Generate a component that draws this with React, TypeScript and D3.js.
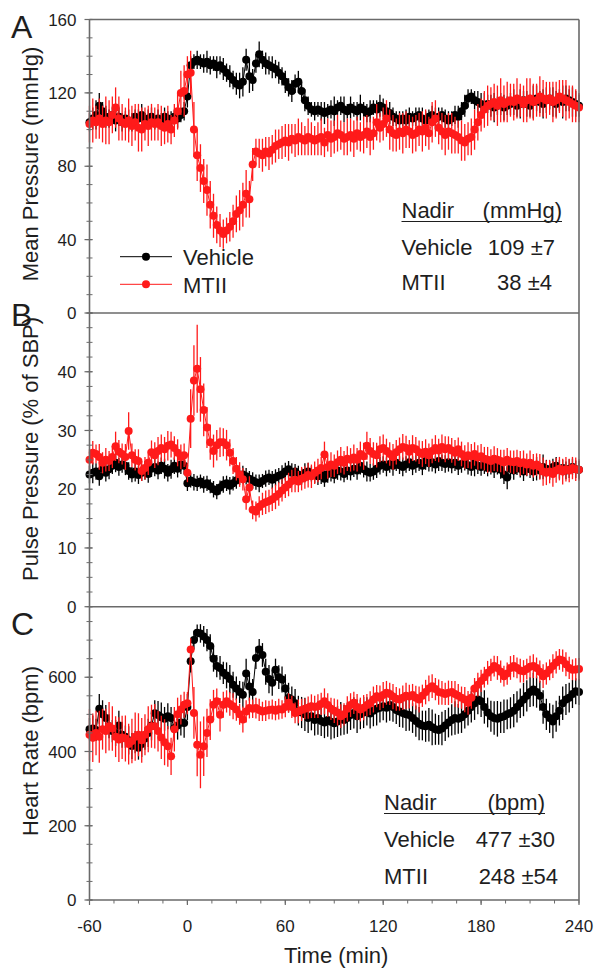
import React from "react";
import * as d3 from "d3";

// Sample times: every 2 min from -60 to 240 (index based)
// Panel A: Mean pressure (mmHg)
const vehMAP = [
  104,106,108,113,110,107,106,108,105,107,
  104,106,105,104,107,106,108,105,106,107,
  104,106,105,107,106,105,107,106,108,110,
  118,135,137,138,137,136,137,135,136,134,
  135,133,131,129,127,125,124,126,138,129,
  127,136,141,138,136,135,134,133,131,129,
  126,123,121,125,126,121,116,113,111,110,
  111,110,109,110,111,110,112,113,111,110,
  112,111,110,112,111,109,110,112,111,113,
  112,110,109,107,106,105,106,105,107,106,
  107,108,106,105,107,108,106,107,108,106,
  105,106,108,107,110,113,117,118,116,115,
  114,113,114,113,112,113,114,112,113,114,
  115,113,114,116,114,113,115,117,115,114,
  116,117,115,114,116,115,117,116,115,114,
  113];
const vehMAPErr = [
  5,6,8,7,5,6,5,4,6,5,
  5,4,6,5,4,5,6,4,5,5,
  4,5,4,5,4,5,4,5,4,5,
  6,5,4,5,4,5,6,5,4,6,
  5,6,5,6,5,6,7,8,6,9,
  6,5,7,5,6,5,6,5,6,5,
  6,5,6,5,6,5,6,5,4,5,
  4,5,6,4,5,8,4,5,7,4,
  6,4,5,7,4,5,6,4,5,6,
  5,4,6,5,4,5,4,6,5,4,
  5,4,6,5,4,5,6,5,4,5,
  5,4,5,6,5,6,5,4,5,6,
  6,7,5,6,8,5,6,7,5,6,
  7,6,8,5,7,6,9,7,6,8,
  7,6,8,7,6,9,7,6,8,7,
  6];
const mtMAP = [
  103,105,104,106,103,105,104,108,112,106,
  104,103,105,102,104,101,100,103,102,104,
  103,104,102,101,103,100,105,110,120,121,
  130,131,100,86,79,72,67,59,53,48,
  45,43,45,47,50,54,56,59,65,62,
  81,88,87,86,88,87,89,91,92,93,
  94,93,95,94,96,95,94,96,95,94,
  95,96,93,97,95,96,98,97,95,96,
  97,95,98,96,97,99,96,98,104,101,
  103,106,100,98,97,99,98,100,99,97,
  98,100,99,101,98,104,106,101,99,97,
  99,98,97,96,94,93,95,96,100,104,
  108,111,113,114,115,113,116,114,115,116,
  115,117,116,114,116,117,115,116,118,117,
  116,117,115,116,118,117,116,115,114,113,
  112];
const mtMAPErr = [
  10,12,9,11,10,13,12,10,11,12,
  10,9,12,11,10,13,12,9,11,10,
  9,10,11,9,10,8,9,10,12,14,
  10,12,15,14,13,12,14,13,12,10,
  9,8,7,8,9,10,11,12,13,10,
  9,7,8,9,8,9,8,9,8,9,
  9,10,8,9,10,9,8,10,9,8,
  9,10,8,9,10,9,10,8,9,10,
  9,10,9,8,10,9,10,9,10,8,
  9,10,11,10,9,10,11,10,9,10,
  10,9,11,10,9,11,10,9,10,11,
  10,11,10,9,11,10,9,10,11,10,
  9,10,11,9,10,11,12,10,11,9,
  10,11,9,10,12,11,10,9,11,10,
  10,9,11,10,9,10,11,9,10,9,
  8];

// Panel B: Pulse pressure (% of SBP)
const vehPP = [
  22.5,22.8,23.0,22.2,23.5,22.8,23.4,24.0,24.5,23.8,
  24.2,24.0,23.1,22.5,23.0,22.4,22.8,23.2,22.6,23.5,
  23.8,23.2,24.0,23.5,22.8,23.4,24.0,23.5,24.2,24.0,
  21.0,21.5,21.2,21.0,21.3,20.8,21.0,20.5,20.0,19.6,
  20.3,20.8,21.0,20.6,21.0,21.5,22.0,22.5,22.2,21.8,
  21.5,21.2,21.0,21.4,21.8,22.0,21.6,22.0,22.3,22.5,
  23.0,23.4,22.8,23.0,22.5,22.2,22.8,23.0,22.6,22.4,
  22.2,22.5,21.8,22.6,23.0,22.4,23.2,23.0,22.6,23.2,
  23.0,23.5,23.2,24.0,23.4,23.0,22.8,23.0,23.5,24.0,
  24.2,23.8,24.3,24.0,24.5,24.1,23.8,24.2,24.6,24.0,
  24.3,24.5,24.0,24.8,24.4,24.6,24.2,24.8,24.5,24.3,
  24.6,24.2,24.5,24.0,24.3,24.6,24.1,23.8,24.4,24.0,
  23.8,24.2,23.6,24.0,23.5,23.9,23.3,22.5,22.0,23.5,
  23.2,23.8,23.5,23.0,23.6,23.4,23.0,23.5,23.2,23.8,
  23.5,23.2,23.8,24.0,23.4,23.6,23.2,23.5,23.8,23.4,
  23.3];
const vehPPErr = [
  1.5,1.8,1.4,1.6,1.3,1.5,1.7,1.4,1.6,1.5,
  1.4,1.6,1.5,1.3,1.7,1.5,1.4,1.6,1.5,1.4,
  1.6,1.5,1.4,1.7,1.5,1.6,1.4,1.5,1.6,1.5,
  1.3,1.2,1.4,1.3,1.2,1.4,1.3,1.2,1.4,1.3,
  1.2,1.4,1.3,1.5,1.2,1.4,1.3,1.5,1.4,1.3,
  1.4,1.3,1.5,1.2,1.4,1.3,1.5,1.4,1.3,1.6,
  1.5,1.4,1.6,1.3,1.5,1.4,1.6,1.5,1.3,1.4,
  1.5,1.6,1.4,1.5,1.7,1.4,1.6,1.5,1.4,1.6,
  1.5,1.4,1.6,1.5,1.4,1.7,1.5,1.4,1.6,1.5,
  1.4,1.6,1.5,1.7,1.4,1.5,1.6,1.4,1.5,1.6,
  1.5,1.4,1.6,1.5,1.4,1.6,1.5,1.7,1.4,1.5,
  1.6,1.5,1.4,1.6,1.5,1.4,1.6,1.5,2.2,1.4,
  1.5,1.6,1.4,1.5,1.6,1.4,1.5,1.6,2.0,1.5,
  1.6,1.4,1.5,1.6,1.4,1.5,1.6,2.0,1.4,2.1,
  1.5,1.6,1.4,1.5,1.6,1.4,1.5,1.6,1.4,1.5,
  1.5];
const mtPP = [
  25.0,26.2,26.0,25.5,24.5,25.0,24.8,25.5,27.3,26.4,
  26.0,25.5,29.9,25.8,25.0,24.8,23.1,23.6,24.5,26.3,
  25.8,26.5,27.0,26.8,27.4,27.6,27.0,26.2,25.5,25.8,
  22.8,32.0,38.5,40.5,37.0,33.5,30.5,28.0,26.5,27.5,
  28.0,28.0,27.5,26.2,24.8,23.5,22.5,21.7,18.3,20.3,
  16.5,16.2,17.0,17.5,17.8,18.0,18.3,18.7,19.2,19.8,
  20.3,20.8,21.4,21.6,21.3,21.8,22.0,22.4,22.2,22.8,
  23.2,23.6,25.9,23.8,24.2,24.0,24.6,25.0,24.5,25.2,
  25.0,25.4,25.0,26.0,25.6,27.4,26.5,26.0,25.8,26.8,
  27.0,26.5,26.0,25.5,26.3,26.8,27.2,27.0,26.4,27.0,
  26.8,26.3,26.0,26.4,25.8,26.5,27.0,26.6,27.2,26.8,
  27.0,26.6,26.2,26.8,26.0,25.5,25.8,25.6,26.0,25.4,
  25.6,25.2,25.0,24.8,25.2,25.0,24.8,24.6,25.0,24.7,
  24.6,24.8,24.4,24.6,24.2,24.5,24.0,24.2,23.8,23.0,
  22.8,23.0,22.6,23.2,23.5,23.0,23.4,23.2,23.6,23.4,
  23.3];
const mtPPErr = [
  1.8,2.0,1.6,2.2,1.8,2.0,1.7,1.9,2.5,2.0,
  1.8,2.2,3.2,2.0,1.8,2.0,1.7,1.9,2.1,2.0,
  2.2,2.4,2.3,2.1,2.5,2.2,2.0,2.3,2.1,2.0,
  1.6,5.0,6.0,7.5,5.5,4.5,3.5,3.0,2.8,2.6,
  2.5,2.4,2.6,2.3,2.2,2.0,2.1,1.9,1.8,1.9,
  1.6,1.7,1.8,1.9,2.0,1.9,2.0,2.1,2.0,1.9,
  1.8,2.0,1.9,2.1,1.8,2.0,1.9,2.1,2.0,1.9,
  2.0,1.9,2.2,2.0,2.1,1.9,2.0,2.2,2.0,2.1,
  2.0,2.2,2.0,2.1,2.3,2.4,2.2,2.0,2.1,2.2,
  2.3,2.1,2.0,2.2,2.1,2.0,2.2,2.1,2.0,2.2,
  2.1,2.0,2.2,2.1,2.0,2.1,2.2,2.0,2.1,2.2,
  2.0,2.1,2.2,2.0,2.1,2.0,2.2,2.1,2.0,2.1,
  2.1,2.0,2.2,2.0,2.1,2.0,1.9,2.1,2.0,1.9,
  2.0,1.9,2.1,2.0,1.9,2.1,2.0,1.9,2.2,2.4,
  2.1,2.0,2.2,2.1,2.0,2.2,2.1,2.0,1.9,2.0,
  1.8];

// Panel C: Heart rate (bpm)
const vehHR = [
  460,462,458,515,500,490,468,455,450,470,
  445,440,430,415,425,410,420,435,450,470,
  503,498,492,488,495,490,463,470,478,477,
  520,643,700,720,718,710,700,684,650,630,
  625,612,605,595,580,570,560,553,610,575,
  560,652,675,660,615,595,585,620,600,594,
  570,545,540,530,510,505,500,490,495,485,
  490,482,478,485,480,476,481,488,485,490,
  498,504,495,500,505,508,502,510,515,518,
  522,518,525,520,512,508,504,500,498,490,
  482,475,470,468,472,465,460,458,462,470,
  478,485,490,488,492,500,510,520,530,540,
  535,520,505,495,490,488,492,495,500,504,
  510,520,530,540,550,560,567,560,550,520,
  500,490,481,495,510,530,540,545,555,562,
  560];
const vehHRErr = [
  30,35,30,40,38,35,32,30,35,40,
  35,30,38,35,30,32,35,30,38,40,
  35,38,40,32,35,30,36,38,35,40,
  35,30,25,22,25,28,30,32,35,30,
  32,30,35,38,35,32,30,35,40,38,
  35,30,28,32,35,38,35,30,32,35,
  38,40,35,38,40,42,45,40,38,42,
  45,40,42,45,48,40,42,45,40,42,
  40,42,45,40,42,38,40,42,45,40,
  38,40,42,40,38,42,40,45,42,40,
  42,45,40,42,45,48,42,40,45,42,
  40,42,45,40,42,38,40,42,45,40,
  42,45,40,42,45,48,42,45,40,42,
  45,42,40,45,42,40,45,42,40,45,
  42,40,45,42,40,45,42,40,38,35,
  35];
const mtHR = [
  445,437,450,440,460,455,468,462,440,432,
  438,435,420,428,440,445,430,445,460,468,
  468,455,438,425,414,387,460,500,513,526,
  530,675,504,418,391,414,450,486,526,535,
  499,526,535,528,522,513,500,486,508,517,
  515,517,512,508,510,512,513,510,514,513,
  520,531,520,504,508,512,515,518,522,520,
  522,528,535,525,515,510,505,495,500,515,
  525,531,520,513,518,525,530,540,549,545,
  552,558,555,548,542,540,545,550,548,552,
  545,540,550,560,570,576,568,560,558,555,
  558,560,555,550,545,540,531,545,570,580,
  590,600,612,620,630,625,615,603,610,625,
  630,625,618,616,622,628,630,625,615,603,
  610,620,630,640,648,645,635,625,620,621,
  622];
const mtHRErr = [
  70,65,60,70,55,60,65,60,55,60,
  58,62,55,60,65,58,60,55,62,58,
  60,55,58,62,55,50,60,45,40,35,
  30,30,70,85,90,80,65,55,40,35,
  45,35,30,32,35,30,28,35,30,28,
  25,28,30,26,28,25,27,26,28,25,
  28,26,30,28,32,30,28,30,32,30,
  32,30,35,32,30,33,35,32,30,34,
  32,30,35,32,34,30,32,35,30,33,
  35,32,30,34,32,30,33,35,32,30,
  32,35,30,33,35,32,30,34,32,30,
  33,30,35,32,30,34,32,30,28,32,
  30,28,32,30,28,32,30,28,30,32,
  30,28,32,30,28,30,32,28,30,32,
  30,28,32,30,28,30,32,30,28,30,
  30];

const xTicks = [-60, 0, 60, 120, 180, 240];
const ticksA = [0, 40, 80, 120, 160];
const ticksB = [0, 10, 20, 30, 40];
const ticksC = [0, 200, 400, 600];
const seriesNames = ["Vehicle", "MTII"];
const nadirA = { unit: "(mmHg)", vehicle: "109 ±7", mtii: "38 ±4" };
const nadirC = { unit: "(bpm)", vehicle: "477 ±30", mtii: "248 ±54" };

const FONT = "'Liberation Sans', Arial, Helvetica, sans-serif";
const TXT = "#1e1e1e";
const AXC = "#6a6a6a";
const RED = "#ff1a1a";

const L = 89.5, R = 579;
const x = d3.scaleLinear().domain([-60, 240]).range([L, R]);

type Panel = {
  letter: string; letterY: number; title: string; titleY: number;
  top: number; bottom: number; domain: [number, number];
  ticks: number[]; minorStep: number;
  veh: number[]; vehE: number[]; mt: number[]; mtE: number[];
};

const panels: Panel[] = [
  { letter: "A", letterY: 38, title: "Mean Pressure (mmHg)", titleY: 164, top: 19.5, bottom: 313,
    domain: [0, 160], ticks: ticksA, minorStep: 10, veh: vehMAP, vehE: vehMAPErr, mt: mtMAP, mtE: mtMAPErr },
  { letter: "B", letterY: 326, title: "Pulse Pressure (% of SBP)", titleY: 449, top: 313, bottom: 606.7,
    domain: [0, 50], ticks: ticksB, minorStep: 2.5, veh: vehPP, vehE: vehPPErr, mt: mtPP, mtE: mtPPErr },
  { letter: "C", letterY: 635, title: "Heart Rate (bpm)", titleY: 751, top: 606.7, bottom: 900,
    domain: [0, 790], ticks: ticksC, minorStep: 50, veh: vehHR, vehE: vehHRErr, mt: mtHR, mtE: mtHRErr },
];

function Series({ vals, errs, y, color }: { vals: number[]; errs: number[]; y: d3.ScaleLinear<number, number>; color: string }) {
  const pts = vals.map((v, i) => ({ t: -60 + 2 * i, v, e: errs[i] ?? 0 }));
  const line = d3.line<{ t: number; v: number }>().x(d => x(d.t)).y(d => y(d.v));
  return (
    <g>
      <path d={line(pts) || ""} fill="none" stroke={color} strokeWidth={1} />
      {pts.map((p, i) => (
        <line key={"e" + i} x1={x(p.t)} x2={x(p.t)} y1={y(p.v - p.e)} y2={y(p.v + p.e)} stroke={color} strokeWidth={1.3} />
      ))}
      {pts.map((p, i) => (
        <circle key={"c" + i} cx={x(p.t)} cy={y(p.v)} r={4} fill={color} />
      ))}
    </g>
  );
}

function PanelView({ p }: { p: Panel }) {
  const y = d3.scaleLinear().domain(p.domain).range([p.bottom, p.top]);
  const minors = d3.range(p.domain[0], p.domain[1] + 0.001, p.minorStep);
  return (
    <g>
      <Series vals={p.veh} errs={p.vehE} y={y} color="#000" />
      <Series vals={p.mt} errs={p.mtE} y={y} color={RED} />
      {minors.map((m, i) => (
        <line key={"m" + i} x1={L - 3} x2={L + 3} y1={y(m)} y2={y(m)} stroke={AXC} strokeWidth={1} />
      ))}
      {p.ticks.map((tk, i) => (
        <g key={"t" + i}>
          <line x1={L - 5} x2={L + 3} y1={y(tk)} y2={y(tk)} stroke={AXC} strokeWidth={1.2} />
          <text x={76.5} y={y(tk)} dy="0.36em" textAnchor="end" fontSize={17} fontFamily={FONT} fill={TXT}>{tk}</text>
        </g>
      ))}
      <text transform={`translate(38,${p.titleY}) rotate(-90)`} textAnchor="middle" fontSize={22} fontFamily={FONT} fill={TXT}>{p.title}</text>
      <text x={11} y={p.letterY} fontSize={32} fontFamily={FONT} fill={TXT}>{p.letter}</text>
      <line x1={L} x2={R} y1={p.top} y2={p.top} stroke={AXC} strokeWidth={1.6} />
    </g>
  );
}

export default function App() {
  const xMinor = d3.range(-60, 241, 15);
  return (
    <svg width={601} height={977} style={{ position: "absolute", left: 0, top: 0, background: "#fff" }}>
      <rect x={0} y={0} width={601} height={977} fill="#fff" />
      {panels.map(p => <PanelView key={p.letter} p={p} />)}
      {/* frame */}
      <line x1={L} x2={L} y1={19.5} y2={900} stroke={AXC} strokeWidth={1.6} />
      <line x1={R} x2={R} y1={19.5} y2={900} stroke={AXC} strokeWidth={1.6} />
      <line x1={L} x2={R} y1={900} y2={900} stroke={AXC} strokeWidth={1.6} />
      {xMinor.map((m, i) => (
        <line key={"xm" + i} x1={x(m)} x2={x(m)} y1={900} y2={903.5} stroke={AXC} strokeWidth={1} />
      ))}
      {xTicks.map((tk, i) => (
        <g key={"xt" + i}>
          <line x1={x(tk)} x2={x(tk)} y1={900} y2={905} stroke={AXC} strokeWidth={1.2} />
          <text x={x(tk)} y={932} textAnchor="middle" fontSize={17} fontFamily={FONT} fill={TXT}>{tk}</text>
        </g>
      ))}
      <text x={(L + R) / 2 + 2} y={963} textAnchor="middle" fontSize={22} fontFamily={FONT} fill={TXT}>Time (min)</text>

      {/* legend */}
      <line x1={120} x2={172} y1={256.7} y2={256.7} stroke="#000" strokeWidth={1} />
      <circle cx={146} cy={256.7} r={4} fill="#000" />
      <text x={183} y={265} fontSize={22} fontFamily={FONT} fill={TXT}>{seriesNames[0]}</text>
      <line x1={120} x2={172} y1={284.3} y2={284.3} stroke={RED} strokeWidth={1} />
      <circle cx={146} cy={284.3} r={4} fill={RED} />
      <text x={183} y={293} fontSize={22} fontFamily={FONT} fill={TXT}>{seriesNames[1]}</text>

      {/* Nadir tables */}
      <g fontFamily={FONT} fontSize={22} fill={TXT}>
        <text x={401.5} y={218}>Nadir</text>
        <text x={562} y={218} textAnchor="end">{nadirA.unit}</text>
        <line x1={401.5} x2={562} y1={221.5} y2={221.5} stroke={TXT} strokeWidth={1.2} />
        <text x={401.5} y={255}>{seriesNames[0]}</text>
        <text x={555} y={255} textAnchor="end">{nadirA.vehicle}</text>
        <text x={401.5} y={290}>{seriesNames[1]}</text>
        <text x={552} y={290} textAnchor="end">{nadirA.mtii}</text>

        <text x={384} y={810}>Nadir</text>
        <text x={545} y={810} textAnchor="end">{nadirC.unit}</text>
        <line x1={384} x2={545} y1={813.5} y2={813.5} stroke={TXT} strokeWidth={1.2} />
        <text x={384} y={847}>{seriesNames[0]}</text>
        <text x={555} y={847} textAnchor="end">{nadirC.vehicle}</text>
        <text x={384} y={884}>{seriesNames[1]}</text>
        <text x={558} y={884} textAnchor="end">{nadirC.mtii}</text>
      </g>
    </svg>
  );
}
